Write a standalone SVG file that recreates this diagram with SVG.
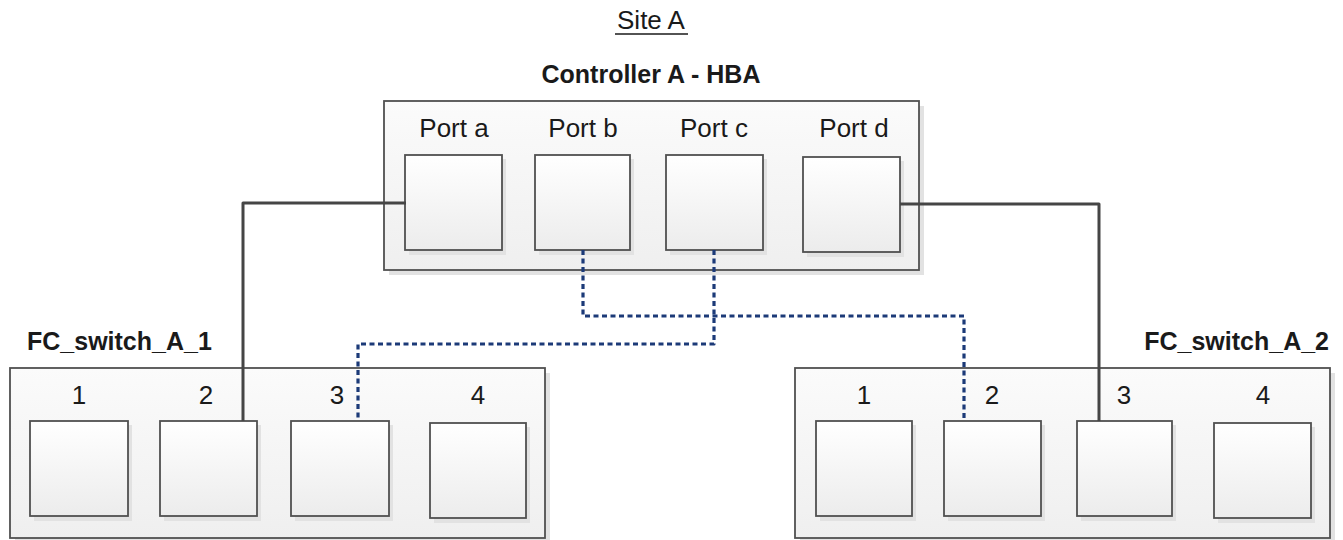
<svg xmlns="http://www.w3.org/2000/svg" width="1343" height="540" viewBox="0 0 1343 540">
<defs>
<linearGradient id="gBox" x1="0" y1="0" x2="0" y2="1">
<stop offset="0" stop-color="#fbfbfb"/>
<stop offset="1" stop-color="#efefef"/>
</linearGradient>
<linearGradient id="gPort" x1="0" y1="0" x2="0" y2="1">
<stop offset="0" stop-color="#ffffff"/>
<stop offset="1" stop-color="#ececec"/>
</linearGradient>
</defs>
<style>
text{font-family:"Liberation Sans",Arial,sans-serif;fill:#1a1a1a}
.t{font-size:26px;text-anchor:middle}
.b{font-size:25px;font-weight:bold}
.box{fill:url(#gBox);stroke:#505050;stroke-width:1.8}
.port{fill:url(#gPort);stroke:#505050;stroke-width:1.8}
.sh{fill:#e2e2e2}
.solid{fill:none;stroke:#454545;stroke-width:3;stroke-linejoin:round}
.dot{fill:none;stroke:#1c3a78;stroke-width:3.2;stroke-dasharray:5 3.5;stroke-linejoin:round}
</style>
<rect width="1343" height="540" fill="#ffffff"/>
<g id="title">
<text class="t" x="651" y="29">Site A</text>
<line x1="615" y1="34" x2="688" y2="34" stroke="#1a1a1a" stroke-width="1.6"/>
</g>
<g id="controller">
<rect class="sh" x="389" y="106" width="535" height="169"/>
<rect class="box" x="384" y="101" width="535" height="169"/>
<text class="b" x="651" y="83" text-anchor="middle">Controller A - HBA</text>
<g id="port-a">
<text class="t" x="454" y="137">Port a</text>
<rect class="sh" x="409" y="159" width="97" height="96"/>
<rect class="port" x="405" y="155" width="97" height="95"/>
</g>
<g id="port-b">
<text class="t" x="583" y="137">Port b</text>
<rect class="sh" x="539" y="159" width="95" height="96"/>
<rect class="port" x="535" y="155" width="95" height="95"/>
</g>
<g id="port-c">
<text class="t" x="714" y="137">Port c</text>
<rect class="sh" x="670" y="159" width="97" height="96"/>
<rect class="port" x="666" y="155" width="97" height="95"/>
</g>
<g id="port-d">
<text class="t" x="854" y="137">Port d</text>
<rect class="sh" x="807" y="161" width="97" height="96"/>
<rect class="port" x="803" y="157" width="97" height="95"/>
</g>
</g>
<g id="fc-switch-a-1">
<text class="b" x="27" y="350">FC_switch_A_1</text>
<rect class="sh" x="15" y="373" width="535" height="170"/>
<rect class="box" x="10" y="368" width="535" height="170"/>
<text class="t" x="79" y="404">1</text>
<text class="t" x="206" y="404">2</text>
<text class="t" x="337" y="404">3</text>
<text class="t" x="478" y="404">4</text>
<rect class="sh" x="34" y="425" width="98" height="96"/>
<rect class="port" x="30" y="421" width="98" height="95"/>
<rect class="sh" x="164" y="425" width="97" height="96"/>
<rect class="port" x="160" y="421" width="97" height="95"/>
<rect class="sh" x="295" y="425" width="98" height="96"/>
<rect class="port" x="291" y="421" width="98" height="95"/>
<rect class="sh" x="434" y="427" width="96" height="96"/>
<rect class="port" x="430" y="423" width="96" height="95"/>
</g>
<g id="fc-switch-a-2">
<text class="b" x="1329" y="350" text-anchor="end">FC_switch_A_2</text>
<rect class="sh" x="800" y="373" width="535" height="170"/>
<rect class="box" x="795" y="368" width="535" height="170"/>
<text class="t" x="864" y="404">1</text>
<text class="t" x="992" y="404">2</text>
<text class="t" x="1124" y="404">3</text>
<text class="t" x="1263" y="404">4</text>
<rect class="sh" x="820" y="425" width="96" height="96"/>
<rect class="port" x="816" y="421" width="96" height="95"/>
<rect class="sh" x="948" y="425" width="97" height="96"/>
<rect class="port" x="944" y="421" width="97" height="95"/>
<rect class="sh" x="1081" y="425" width="95" height="96"/>
<rect class="port" x="1077" y="421" width="95" height="95"/>
<rect class="sh" x="1218" y="427" width="97" height="96"/>
<rect class="port" x="1214" y="423" width="97" height="95"/>
</g>
<g id="connectors">
<polyline class="solid" points="406,203 243,203 243,421"/>
<polyline class="solid" points="900,204 1099,204 1099,421"/>
<polyline class="dot" points="583,250 583,316 964,316 964,421"/>
<polyline class="dot" points="714,250 714,344 358,344 358,421"/>
</g>
</svg>
